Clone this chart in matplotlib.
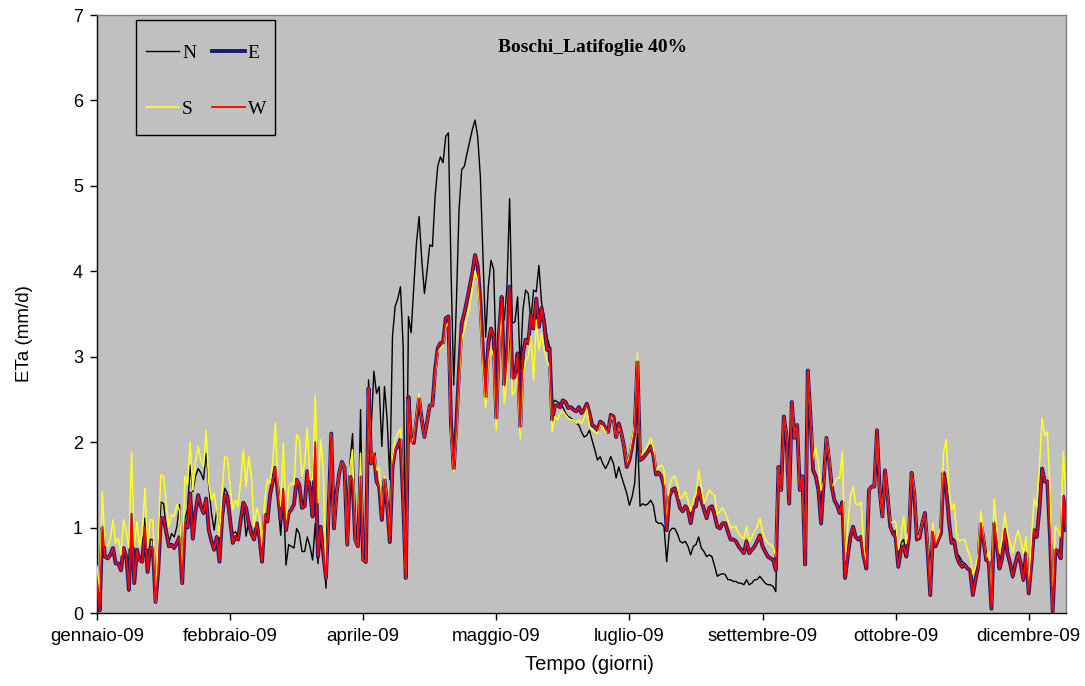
import matplotlib
matplotlib.use("Agg")
import matplotlib.pyplot as plt
from matplotlib.patches import Rectangle

# Daily actual evapotranspiration (mm/d), 2009, one value per day (365)
N = [
    0.39, 0.03, 1.00, 0.66, 0.64, 0.68, 0.76, 0.58, 0.58, 0.50,
    0.76, 0.66, 0.27, 1.15, 0.35, 0.74, 0.62, 0.60, 1.11, 0.48,
    0.86, 0.86, 0.13, 0.50, 1.30, 1.28, 1.00, 0.82, 0.93, 0.89,
    1.01, 1.27, 0.35, 1.10, 1.21,
    1.73, 1.42, 1.60, 1.69, 1.64, 1.56, 1.87, 1.48, 1.17, 0.97,
    1.20, 0.93, 1.25, 1.46, 1.40, 1.09, 0.93, 0.95, 0.90, 1.13,
    1.25, 0.90, 1.09, 1.00, 0.86, 1.05, 0.89, 0.60, 1.15, 1.07,
    1.38, 1.54, 1.70, 1.30, 0.91,
    1.40, 0.56, 0.80, 0.78, 0.76, 0.99, 0.93, 0.72, 0.72, 0.89,
    0.78, 0.62, 1.05, 0.58, 0.99, 0.82, 0.29, 1.17, 2.10, 0.99,
    1.40, 1.64, 1.77, 1.70, 0.80, 1.75, 2.10, 1.09, 0.80, 2.38,
    0.62, 0.58, 2.73, 2.16, 2.83, 2.57, 2.65, 1.95, 2.65, 2.26,
    1.56, 3.24, 3.59, 3.68, 3.82, 3.12, 0.41, 3.47, 3.28, 3.82,
    4.33, 4.64, 4.13, 3.74, 4.01, 4.31, 4.29, 4.87, 5.23, 5.34,
    5.27, 5.58, 5.62,
    4.00, 2.67, 3.63, 4.72, 5.19, 5.23, 5.38, 5.52, 5.66, 5.77,
    5.58, 5.11, 4.17, 3.23, 3.82, 4.13, 4.02, 2.90, 3.27, 3.70,
    3.43, 3.82, 4.85, 3.39, 3.41, 3.70, 2.85, 3.55,
    3.78, 3.74, 3.43, 3.78, 3.76, 4.07, 3.63, 3.47, 3.24, 3.12,
    2.45, 2.49, 2.47, 2.45, 2.41, 2.34, 2.30, 2.28, 2.26, 2.22,
    2.20, 2.12, 2.06, 2.08, 2.14, 2.02, 1.91, 1.79, 1.83, 1.75,
    1.69, 1.75, 1.83, 1.75, 1.58, 1.71, 1.60, 1.50,
    1.40, 1.26, 1.36, 1.52, 2.10, 1.25, 1.28, 1.26, 1.28, 1.32,
    1.26, 1.07, 1.05, 1.05, 1.01, 0.60, 0.95, 0.99, 0.99, 0.93,
    0.84, 0.82, 0.84, 0.78, 0.68, 0.78, 0.80, 0.89, 0.76, 0.72,
    0.66, 0.68, 0.66,
    0.55, 0.43, 0.45, 0.46, 0.45, 0.39, 0.39, 0.37, 0.37, 0.35,
    0.35, 0.33, 0.39, 0.33, 0.35, 0.39, 0.39, 0.43, 0.39, 0.35,
    0.33, 0.33, 0.31, 0.25,
    1.71, 1.44, 2.30, 2.07, 1.28, 2.47, 2.05, 2.20, 1.44, 1.60,
    0.57, 2.84, 2.30, 1.67, 1.60, 1.44, 1.03, 1.56, 2.05, 1.79,
    1.48, 1.32, 1.26, 1.17, 1.30, 0.41, 0.66, 0.89, 1.01, 0.89,
    0.86, 0.89, 0.66, 0.52, 1.44, 1.48, 1.48, 2.14, 1.44, 1.13,
    1.67, 1.36, 1.01, 0.93,
    0.97, 0.58, 0.82, 0.86, 0.70, 0.89, 1.64, 1.40, 0.86, 0.88,
    1.05, 1.17, 0.74, 0.21, 0.95, 0.78, 0.86, 0.93, 1.64, 1.48,
    1.09, 0.89, 0.86, 0.70, 0.66, 0.60, 0.58, 0.52, 0.50, 0.21,
    0.39, 0.54,
    1.05, 0.86, 0.62, 0.60, 0.05, 1.05, 0.82, 0.52, 0.64, 0.97,
    0.70, 0.58, 0.41, 0.58, 0.70, 0.58, 0.37, 0.70, 0.23, 0.58,
    0.97, 0.89, 1.21, 1.69, 1.54, 1.54, 0.89, 0.02, 0.74, 0.72,
    0.64, 1.36, 0.97,
]

E = [
    0.39, 0.03, 1.00, 0.66, 0.64, 0.68, 0.76, 0.58, 0.58, 0.50,
    0.76, 0.66, 0.27, 1.15, 0.35, 0.74, 0.62, 0.60, 1.01, 0.48,
    0.76, 0.76, 0.13, 0.50, 1.11, 1.11, 0.95, 0.78, 0.80, 0.76,
    0.82, 0.89, 0.35, 1.05, 1.00,
    1.40, 0.87, 1.19, 1.38, 1.25, 1.17, 1.34, 0.97, 0.84, 0.74,
    0.89, 0.60, 1.13, 1.38, 1.36, 1.09, 0.82, 0.89, 0.86, 1.09,
    1.29, 1.23, 1.05, 0.93, 0.86, 1.05, 0.89, 0.60, 1.15, 1.07,
    1.38, 1.54, 1.70, 1.40, 1.09,
    1.44, 0.97, 1.17, 1.21, 1.27, 1.56, 1.50, 1.23, 1.25, 1.66,
    1.44, 1.13, 1.99, 0.66, 1.01, 0.70, 0.41, 1.17, 2.10, 0.99,
    1.40, 1.64, 1.77, 1.70, 0.80, 1.60, 1.56, 0.86, 0.78, 1.60,
    0.62, 0.60, 2.63, 1.75, 1.87, 1.54, 1.48, 1.09, 1.56, 1.26,
    0.83, 1.71, 1.91, 1.95, 2.03, 1.32, 0.41, 2.53, 2.01, 1.99,
    2.26, 2.51, 2.26, 2.06, 2.24, 2.43, 2.43, 2.85, 3.10, 3.16,
    3.16, 3.45, 3.47, 2.20, 1.69, 2.22, 2.85, 3.39, 3.51, 3.66,
    3.82, 3.98, 4.19, 4.06, 3.66, 3.04, 2.53, 3.16, 3.33, 3.23,
    2.28, 3.27, 3.70, 2.67, 3.00, 3.82, 2.75, 2.77, 3.04, 2.18,
    3.04,
    3.20, 3.16, 3.49, 3.33, 3.68, 3.35, 3.57, 3.39, 3.08, 3.10,
    2.26, 2.43, 2.43, 2.41, 2.49, 2.47, 2.40, 2.41, 2.38, 2.36,
    2.41, 2.34, 2.38, 2.45, 2.34, 2.20, 2.18, 2.14, 2.24, 2.22,
    2.16, 2.12, 2.32, 2.30, 2.06, 2.22, 2.10, 1.95,
    1.71, 1.79, 1.95, 2.14, 2.94, 1.79, 1.81, 1.85, 1.89, 1.95,
    1.85, 1.62, 1.64, 1.60, 1.48, 0.97, 1.36, 1.44, 1.46, 1.36,
    1.23, 1.19, 1.25, 1.21, 1.05, 1.23, 1.25, 1.46, 1.32, 1.21,
    1.11, 1.23, 1.25,
    1.15, 1.01, 0.99, 1.05, 1.05, 0.95, 0.86, 0.86, 0.84, 0.78,
    0.74, 0.70, 0.84, 0.70, 0.74, 0.78, 0.84, 0.91, 0.78, 0.72,
    0.66, 0.64, 0.62, 0.50, 1.71, 1.44, 2.30, 2.07, 1.28, 2.47,
    2.05, 2.20, 1.44, 1.60, 0.57, 2.84,
    2.30, 1.67, 1.60, 1.44, 1.05, 1.56, 2.05, 1.79, 1.48, 1.32,
    1.26, 1.17, 1.30, 0.41, 0.66, 0.89, 1.01, 0.89, 0.86, 0.89,
    0.66, 0.52, 1.44, 1.48, 1.48, 2.14, 1.44, 1.13, 1.67, 1.36,
    1.01, 0.93,
    0.89, 0.54, 0.74, 0.78, 0.66, 0.89, 1.64, 1.40, 0.86, 0.88,
    1.05, 1.17, 0.74, 0.21, 0.95, 0.78, 0.86, 0.93, 1.64, 1.48,
    1.09, 0.82, 0.84, 0.66, 0.58, 0.54, 0.56, 0.52, 0.50, 0.21,
    0.39, 0.54,
    1.05, 0.86, 0.62, 0.60, 0.05, 1.05, 0.82, 0.52, 0.64, 0.97,
    0.70, 0.58, 0.43, 0.58, 0.70, 0.58, 0.39, 0.70, 0.23, 0.58,
    0.97, 0.89, 1.21, 1.69, 1.54, 1.54, 0.89, 0.02, 0.74, 0.72,
    0.64, 1.36, 0.97,
]

S = [
    0.55, 0.25, 1.42, 0.80, 0.78, 0.86, 1.09, 0.82, 0.87, 0.68,
    1.09, 0.95, 0.76, 1.89, 0.78, 1.07, 0.78, 0.93, 1.46, 0.76,
    1.09, 1.09, 0.13, 0.86, 1.62, 1.60, 1.29, 1.01, 1.15, 1.13,
    1.27, 1.20, 0.35, 1.60, 1.50,
    2.00, 1.44, 1.77, 1.95, 1.79, 1.72, 2.14, 1.52, 1.32, 1.40,
    1.20, 0.90, 1.44, 1.83, 1.81, 1.48, 1.21, 1.32, 1.25, 1.56,
    1.91, 1.48, 1.83, 1.60, 1.01, 1.23, 1.13, 0.78, 1.32, 1.56,
    1.52, 1.75, 2.22, 1.44, 1.25,
    1.99, 1.01, 1.48, 1.52, 1.50, 2.09, 2.03, 1.60, 1.75, 2.16,
    1.56, 1.56, 2.55, 1.29, 2.03, 1.68, 0.41, 1.17, 2.10, 0.99,
    1.40, 1.64, 1.77, 1.70, 0.80, 1.70, 1.91, 0.86, 0.78, 1.87,
    0.62, 0.60, 2.63, 1.75, 1.89, 1.67, 1.71, 1.15, 1.60, 1.30,
    0.90, 1.80, 2.04, 2.10, 2.16, 1.40, 0.41, 2.50, 1.99, 2.05,
    2.30, 2.57, 2.26, 2.06, 2.24, 2.43, 2.43, 2.80, 3.05, 3.10,
    3.12, 3.35, 3.40, 2.10, 1.65, 2.10, 2.72, 3.20, 3.32, 3.45,
    3.60, 3.80, 4.00, 3.90, 3.50, 2.85, 2.40, 2.95, 3.10, 3.00,
    2.14, 3.10, 3.55, 2.45, 2.75, 3.60, 2.55, 2.60, 2.80, 2.04,
    2.75,
    2.96, 3.00, 3.24, 2.73, 3.43, 3.08, 3.27, 3.08, 2.96, 2.88,
    2.12, 2.30, 2.26, 2.34, 2.36, 2.32, 2.28, 2.26, 2.26, 2.22,
    2.26, 2.22, 2.28, 2.40, 2.18, 2.14, 2.12, 2.10, 2.20, 2.18,
    2.12, 2.12, 2.30, 2.26, 2.06, 2.18, 2.10, 1.95,
    1.75, 1.83, 2.03, 2.22, 3.04, 1.83, 1.87, 1.91, 1.97, 2.05,
    1.93, 1.67, 1.71, 1.73, 1.67, 1.03, 1.48, 1.58, 1.60, 1.50,
    1.34, 1.36, 1.42, 1.32, 1.19, 1.32, 1.38, 1.67, 1.48, 1.28,
    1.36, 1.44, 1.40,
    1.38, 1.15, 1.19, 1.23, 1.17, 1.09, 0.99, 1.01, 1.01, 0.93,
    0.89, 0.87, 1.01, 0.84, 0.89, 0.95, 1.01, 1.11, 0.95, 0.87,
    0.82, 0.80, 0.78, 0.66, 1.71, 1.44, 2.30, 2.07, 1.28, 2.47,
    2.05, 2.20, 1.44, 1.60, 0.57, 2.84,
    2.30, 1.80, 1.93, 1.75, 1.44, 1.54, 2.05, 1.83, 1.48, 1.52,
    1.58, 1.58, 1.89, 0.62, 1.01, 1.36, 1.48, 1.28, 1.26, 1.30,
    0.78, 0.58, 1.44, 1.48, 1.48, 2.14, 1.44, 1.13, 1.67, 1.36,
    1.05, 1.07,
    1.07, 0.74, 0.89, 1.13, 0.82, 0.97, 1.64, 1.44, 0.87, 0.91,
    1.05, 1.17, 0.82, 0.23, 1.05, 0.82, 0.91, 1.01, 1.87, 2.03,
    1.44, 1.21, 1.28, 0.89, 0.84, 0.86, 0.86, 0.74, 0.66, 0.46,
    0.54, 0.70,
    1.19, 0.89, 0.64, 0.72, 0.11, 1.34, 0.97, 0.70, 0.86, 1.17,
    0.93, 0.82, 0.70, 0.86, 0.97, 0.84, 0.70, 0.89, 0.30, 0.86,
    1.34, 1.24, 1.71, 2.28, 2.08, 2.12, 1.44, 0.05, 1.01, 0.97,
    0.89, 1.89, 1.36,
]

W = [
    0.39, 0.03, 1.00, 0.66, 0.64, 0.68, 0.76, 0.58, 0.58, 0.50,
    0.76, 0.66, 0.27, 1.15, 0.35, 0.74, 0.62, 0.60, 1.01, 0.48,
    0.76, 0.76, 0.13, 0.50, 1.11, 1.11, 0.95, 0.78, 0.80, 0.76,
    0.82, 0.89, 0.35, 1.05, 1.00,
    1.40, 0.87, 1.19, 1.38, 1.25, 1.17, 1.34, 0.97, 0.84, 0.74,
    0.89, 0.60, 1.13, 1.38, 1.36, 1.09, 0.82, 0.89, 0.86, 1.09,
    1.29, 1.23, 1.05, 0.93, 0.86, 1.05, 0.89, 0.60, 1.15, 1.07,
    1.38, 1.54, 1.70, 1.40, 1.09,
    1.44, 0.97, 1.17, 1.21, 1.27, 1.56, 1.50, 1.23, 1.25, 1.66,
    1.44, 1.13, 1.99, 0.66, 1.01, 0.70, 0.41, 1.17, 2.10, 0.99,
    1.40, 1.64, 1.77, 1.70, 0.80, 1.60, 1.56, 0.86, 0.78, 1.60,
    0.62, 0.60, 2.63, 1.75, 1.87, 1.54, 1.48, 1.09, 1.56, 1.26,
    0.83, 1.71, 1.91, 1.95, 2.03, 1.32, 0.41, 2.53, 2.01, 1.99,
    2.26, 2.51, 2.26, 2.06, 2.24, 2.43, 2.43, 2.85, 3.10, 3.16,
    3.16, 3.45, 3.47, 2.20, 1.69, 2.22, 2.85, 3.39, 3.51, 3.66,
    3.82, 3.98, 4.19, 4.06, 3.66, 3.04, 2.53, 3.16, 3.33, 3.23,
    2.28, 3.27, 3.70, 2.67, 3.00, 3.82, 2.75, 2.77, 3.04, 2.18,
    3.04,
    3.20, 3.16, 3.49, 3.33, 3.68, 3.35, 3.57, 3.39, 3.08, 3.10,
    2.26, 2.43, 2.43, 2.41, 2.49, 2.47, 2.40, 2.41, 2.38, 2.36,
    2.41, 2.34, 2.38, 2.45, 2.34, 2.20, 2.18, 2.14, 2.24, 2.22,
    2.16, 2.12, 2.32, 2.30, 2.06, 2.22, 2.10, 1.95,
    1.71, 1.79, 1.95, 2.14, 2.94, 1.79, 1.81, 1.85, 1.89, 1.95,
    1.85, 1.62, 1.64, 1.60, 1.48, 0.97, 1.36, 1.44, 1.46, 1.36,
    1.23, 1.19, 1.25, 1.21, 1.05, 1.23, 1.25, 1.46, 1.32, 1.21,
    1.11, 1.23, 1.25,
    1.15, 1.01, 0.99, 1.05, 1.05, 0.95, 0.86, 0.86, 0.84, 0.78,
    0.74, 0.70, 0.84, 0.70, 0.74, 0.78, 0.84, 0.91, 0.78, 0.72,
    0.66, 0.64, 0.62, 0.50, 1.71, 1.44, 2.30, 2.07, 1.28, 2.47,
    2.05, 2.20, 1.44, 1.60, 0.57, 2.84,
    2.30, 1.67, 1.60, 1.44, 1.05, 1.56, 2.05, 1.79, 1.48, 1.32,
    1.26, 1.17, 1.30, 0.41, 0.66, 0.89, 1.01, 0.89, 0.86, 0.89,
    0.66, 0.52, 1.44, 1.48, 1.48, 2.14, 1.44, 1.13, 1.67, 1.36,
    1.01, 0.93,
    0.89, 0.54, 0.74, 0.78, 0.66, 0.89, 1.64, 1.40, 0.86, 0.88,
    1.05, 1.17, 0.74, 0.21, 0.95, 0.78, 0.86, 0.93, 1.64, 1.48,
    1.09, 0.82, 0.84, 0.66, 0.58, 0.54, 0.56, 0.52, 0.50, 0.21,
    0.39, 0.54,
    1.05, 0.86, 0.62, 0.60, 0.05, 1.05, 0.82, 0.52, 0.64, 0.97,
    0.70, 0.58, 0.43, 0.58, 0.70, 0.58, 0.39, 0.70, 0.23, 0.58,
    0.97, 0.89, 1.21, 1.69, 1.54, 1.54, 0.89, 0.02, 0.74, 0.72,
    0.64, 1.36, 0.97,
]

# Date axis: ticks every 50 days from 1 Jan 2009
tick_days = [0, 50, 100, 150, 200, 250, 300, 350]
tick_labels = ["gennaio-09", "febbraio-09", "aprile-09", "maggio-09",
               "luglio-09", "settembre-09", "ottobre-09", "dicembre-09"]
title_text = "Boschi_Latifoglie 40%"

sans = ["Liberation Sans", "DejaVu Sans"]
serif = ["Liberation Serif", "DejaVu Serif"]

fig = plt.figure(figsize=(10.85, 6.86), dpi=100)
ax = fig.add_axes([97 / 1085, 1 - 613 / 686, 969 / 1085, 598 / 686])
ax.set_facecolor("#c0c0c0")

days = list(range(len(E)))
lN, = ax.plot(days, N, color="black", lw=1.0, zorder=2, label="N")
lE, = ax.plot(days, E, color="#1a1a72", lw=2.8, zorder=3, label="E")
lS, = ax.plot(days, S, color="#ffff22", lw=1.1, zorder=4, label="S")
lW, = ax.plot(days, W, color="#ff0000", lw=1.3, zorder=5, label="W")

ax.set_xlim(0, 364)
ax.set_ylim(0, 7)
ax.set_yticks(range(8))
ax.set_xticks(tick_days)
ax.set_xticklabels(tick_labels, fontfamily=sans, fontsize=13.5)
for lab in ax.get_yticklabels():
    lab.set_fontfamily(sans)
    lab.set_fontsize(13)
ax.tick_params(axis="both", direction="out", length=5, width=1, color="black")
ax.tick_params(axis="x", pad=6)
ax.tick_params(axis="y", pad=5)

for side in ("left", "bottom"):
    ax.spines[side].set_color("black")
    ax.spines[side].set_linewidth(1.0)
for side in ("top", "right"):
    ax.spines[side].set_color("#808080")
    ax.spines[side].set_linewidth(1.0)

ax.set_ylabel("ETa (mm/d)", fontfamily=sans, fontsize=13.5)
ax.set_xlabel("Tempo (giorni)", fontfamily=sans, fontsize=14.5)
ax.yaxis.set_label_coords(-0.066, 0.468)
ax.xaxis.set_label_coords(0.508, -0.070)

ax.text(0.511, 0.945, title_text, transform=ax.transAxes, ha="center",
        va="center", fontfamily=serif, fontweight="bold", fontsize=14)

# Legend box drawn as its own frame, entries laid out inside it
ax.add_patch(Rectangle((0.0402, 0.7993), 0.1435, 0.1923,
                       transform=ax.transAxes, facecolor="#c0c0c0",
                       edgecolor="black", linewidth=1.0, zorder=6))
leg = ax.legend(handles=[lN, lS, lE, lW], ncol=2, loc="upper left",
                bbox_to_anchor=(0.0506, 0.9515), borderaxespad=0,
                prop={"family": serif, "size": 14}, frameon=False,
                labelspacing=1.99, handlelength=1.7, handletextpad=0.15,
                columnspacing=0.8, borderpad=0)
leg.set_zorder(7)

fig.savefig("out.png", dpi=100)
